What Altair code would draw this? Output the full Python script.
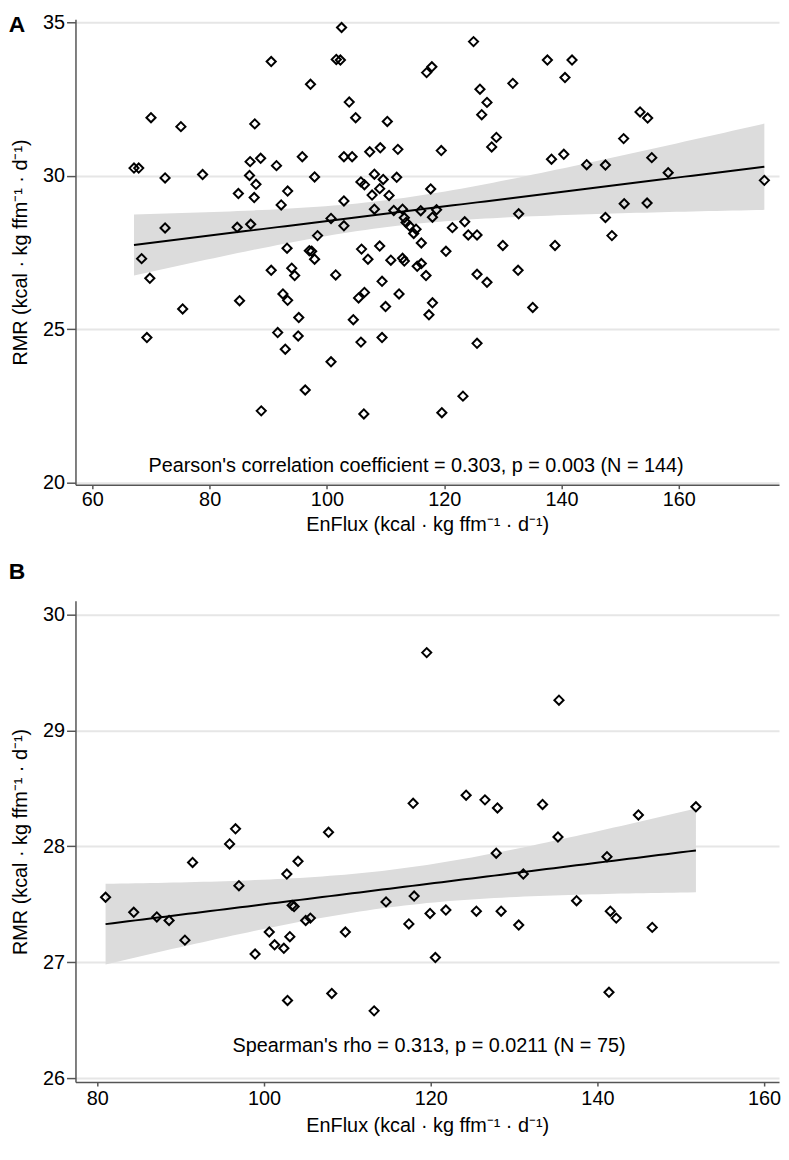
import altair as alt
import numpy as np
import pandas as pd

# ---------------- Panel A data (EnFlux vs RMR) ----------------
a_enflux = [90.5, 97.2, 70.0, 75.1, 87.7, 67.1, 67.9, 72.4, 78.8, 86.9,
            88.7, 91.4, 95.8, 86.8, 87.9, 84.9, 87.6, 93.3, 92.2, 72.4,
            84.7, 87.0, 93.2, 97.0, 68.4, 69.8, 90.5, 94.0, 94.5, 92.5,
            93.3, 85.1, 75.4, 95.2, 69.3, 91.6, 95.1, 92.9, 96.3, 88.8,
            102.5, 101.6, 102.3, 125.0, 117.0, 117.9, 103.8, 104.9, 110.3, 126.1,
            127.3, 126.4, 131.7, 137.6, 141.8, 140.6, 128.9, 128.1, 102.9, 104.3,
            107.3, 109.1, 112.1, 119.5, 97.9, 105.8, 106.4, 108.1, 109.6, 111.9,
            109.0, 107.7, 110.6, 117.7, 102.9, 108.1, 111.4, 112.9, 116.0, 118.7,
            118.0, 113.2, 113.5, 114.1, 115.2, 114.8, 100.7, 102.9, 98.4, 121.4,
            123.5, 124.1, 125.6, 132.7, 105.9, 109.0, 116.1, 120.3, 130.0, 153.4,
            154.7, 150.6, 138.3, 140.4, 144.3, 147.5, 155.4, 158.2, 174.6, 150.7,
            154.6, 147.5, 148.6, 138.9, 97.4, 97.9, 107.0, 110.9, 112.9, 113.2,
            115.4, 116.1, 116.9, 101.5, 109.4, 125.6, 127.3, 132.6, 106.4, 105.4,
            112.3, 110.0, 118.0, 117.4, 104.5, 105.8, 109.4, 125.6, 135.1, 100.7,
            123.2, 106.3, 119.6]
a_rmr = [33.72, 32.98, 31.89, 31.60, 31.69, 30.25, 30.25, 29.93, 30.04, 30.46,
         30.57, 30.33, 30.62, 30.01, 29.72, 29.42, 29.29, 29.50, 29.05, 28.30,
         28.32, 28.42, 27.64, 27.56, 27.30, 26.66, 26.92, 26.99, 26.75, 26.15,
         25.94, 25.93, 25.66, 25.38, 24.73, 24.89, 24.78, 24.35, 23.02, 22.34,
         34.83, 33.79, 33.77, 34.37, 33.36, 33.55, 32.40, 31.89, 31.77, 32.82,
         32.39, 31.99, 33.01, 33.77, 33.77, 33.20, 31.25, 30.94, 30.62, 30.62,
         30.78, 30.91, 30.86, 30.82, 29.96, 29.80, 29.71, 30.05, 29.88, 29.95,
         29.58, 29.37, 29.36, 29.57, 29.18, 28.91, 28.87, 28.91, 28.86, 28.89,
         28.65, 28.63, 28.48, 28.36, 28.26, 28.12, 28.61, 28.37, 28.05, 28.31,
         28.50, 28.07, 28.07, 28.76, 27.61, 27.71, 27.81, 27.54, 27.73, 32.08,
         31.88, 31.21, 30.54, 30.70, 30.36, 30.35, 30.59, 30.10, 29.85, 29.09,
         29.11, 28.64, 28.05, 27.73, 27.54, 27.28, 27.28, 27.25, 27.31, 27.22,
         27.05, 27.14, 26.75, 26.77, 26.56, 26.79, 26.53, 26.92, 26.20, 26.02,
         26.15, 25.74, 25.86, 25.47, 25.31, 24.58, 24.73, 24.54, 25.71, 23.94,
         22.82, 22.24, 22.28]

# ---------------- Panel B data ----------------
b_enflux = [119.52, 135.39, 117.89, 124.25, 126.51, 128.01, 133.42, 151.82, 80.99, 84.37,
            87.14, 88.61, 90.51, 91.43, 95.87, 96.58, 96.99, 98.93, 100.63, 101.27,
            102.38, 103.10, 102.74, 104.08, 103.37, 103.61, 105.00, 102.82, 107.74, 105.56,
            109.76, 114.64, 118.01, 117.38, 119.92, 121.82, 120.56, 108.13, 125.48, 128.45,
            130.56, 127.86, 131.11, 144.92, 135.27, 141.15, 137.50, 141.55, 142.26, 146.58,
            141.39, 113.21]
b_rmr = [29.67, 29.26, 28.37, 28.44, 28.40, 28.33, 28.36, 28.34, 27.56, 27.43,
         27.39, 27.36, 27.19, 27.86, 28.02, 28.15, 27.66, 27.07, 27.26, 27.15,
         27.12, 27.22, 27.76, 27.87, 27.49, 27.48, 27.36, 26.67, 28.12, 27.38,
         27.26, 27.52, 27.57, 27.33, 27.42, 27.45, 27.04, 26.73, 27.44, 27.44,
         27.32, 27.94, 27.76, 28.27, 28.08, 27.91, 27.53, 27.44, 27.38, 27.30,
         26.74, 26.58]

a_xticks = [60, 80, 100, 120, 140, 160]
a_yticks = [20, 25, 30, 35]
b_xticks = [80, 100, 120, 140, 160]
b_yticks = [26, 27, 28, 29, 30]

x_title = "EnFlux (kcal · kg ffm⁻¹ · d⁻¹)"
y_title = "RMR (kcal · kg ffm⁻¹ · d⁻¹)"
note_a = "Pearson's correlation coefficient = 0.303, p = 0.003 (N = 144)"
note_b = "Spearman's rho = 0.313, p = 0.0211 (N = 75)"

FONT = "Liberation Sans"


def fit_band(x, y, n=80):
    x = np.asarray(x, float)
    y = np.asarray(y, float)
    nobs = len(x)
    b1, b0 = np.polyfit(x, y, 1)
    xs = np.linspace(x.min(), x.max(), n)
    yhat = b0 + b1 * xs
    resid = y - (b0 + b1 * x)
    s = np.sqrt(np.sum(resid ** 2) / (nobs - 2))
    sxx = np.sum((x - x.mean()) ** 2)
    df = nobs - 2
    t = 1.96 + 2.4 / df
    se = s * np.sqrt(1.0 / nobs + (xs - x.mean()) ** 2 / sxx)
    return pd.DataFrame({"x": xs, "y": yhat, "lo": yhat - t * se, "hi": yhat + t * se})


def panel(xv, yv, xdom, ydom, xticks, yticks, letter, letter_y, note, note_xy,
          width, height, xlabpad, xtitlepad):
    pts = pd.DataFrame({"x": xv, "y": yv})
    fit = fit_band(xv, yv)
    xaxis = alt.Axis(values=xticks, title=x_title, grid=False, tickSize=4,
                     labelPadding=xlabpad, titlePadding=xtitlepad, domainColor="#555555",
                     tickColor="#555555", domainWidth=1.5, tickWidth=1.5)
    yaxis = alt.Axis(values=yticks, title=y_title, grid=True, tickSize=9,
                     labelPadding=2, titlePadding=12, domainColor="#555555",
                     tickColor="#555555", domainWidth=1.5, tickWidth=1.5,
                     gridColor="#e6e6e6", gridWidth=2)
    xs = alt.Scale(domain=xdom, nice=False, zero=False)
    ys = alt.Scale(domain=ydom, nice=False, zero=False)

    band = alt.Chart(fit).mark_area(color="#dcdcdc", opacity=1).encode(
        x=alt.X("x:Q", scale=xs, axis=xaxis),
        y=alt.Y("lo:Q", scale=ys, axis=yaxis),
        y2="hi:Q",
    )
    line = alt.Chart(fit).mark_line(color="black", strokeWidth=2).encode(
        x=alt.X("x:Q", scale=xs, axis=xaxis),
        y=alt.Y("y:Q", scale=ys, axis=yaxis),
    )
    points = alt.Chart(pts).mark_point(
        shape="diamond", filled=False, color="black", strokeWidth=2, size=85, opacity=1
    ).encode(
        x=alt.X("x:Q", scale=xs, axis=xaxis),
        y=alt.Y("y:Q", scale=ys, axis=yaxis),
    )
    ndf = pd.DataFrame({"x": [note_xy[0]], "y": [note_xy[1]], "t": [note]})
    ntext = alt.Chart(ndf).mark_text(font=FONT, fontSize=20, color="black").encode(
        x=alt.X("x:Q", scale=xs, axis=xaxis),
        y=alt.Y("y:Q", scale=ys, axis=yaxis),
        text="t:N",
    )
    ldf = pd.DataFrame({"t": [letter]})
    ltext = alt.Chart(ldf).mark_text(font=FONT, fontSize=23, fontWeight="bold",
                                     color="black", align="center", baseline="middle").encode(
        x=alt.value(-59), y=alt.value(letter_y), text="t:N"
    )
    return alt.layer(band, line, points, ntext, ltext).properties(width=width, height=height)


pA = panel(a_enflux, a_rmr, [57.12, 177.1], [19.935, 35.097], a_xticks, a_yticks,
           "A", 6, note_a, (115.2, 20.55), 709, 469, 1, 5)
pB = panel(b_enflux, b_rmr, [77.38, 161.79], [25.966, 30.117], b_xticks, b_yticks,
           "B", -29, note_b, (119.8, 26.28), 709, 485, 3, 7)

chart = alt.vconcat(pA, pB, spacing=27).properties(
    padding={"left": 0, "top": 0, "right": 0, "bottom": 0}
).configure_view(stroke=None).configure_axis(
    labelFont=FONT, titleFont=FONT, labelFontSize=20, titleFontSize=20,
    labelColor="black", titleColor="black", titleFontWeight="normal"
)

chart.save("out.html", embed_options={"renderer": "svg", "actions": False})
